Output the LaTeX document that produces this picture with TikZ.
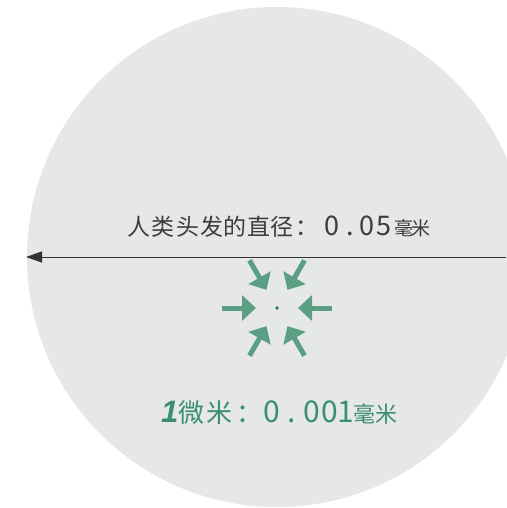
\documentclass[tikz,border=0pt]{standalone}
\usepackage{fontspec}
\newfontfamily\cjk{Noto Sans CJK SC}
\newfontfamily\lsans{Liberation Sans}
\usetikzlibrary{arrows.meta,calc}
\definecolor{discgray}{HTML}{E6E7E8}
\definecolor{linegray}{HTML}{333333}
\definecolor{textgray}{HTML}{3C3C3C}
\definecolor{arrowgreen}{HTML}{5C9E83}
\definecolor{textgreen}{HTML}{3A8F6D}
\definecolor{dotgreen}{HTML}{1F7A5A}
\newcommand\gl[2]{\makebox[0pt]{#1}\hspace{#2}}
\newcommand\gz[1]{\makebox[0pt]{#1}}
\tikzset{
  disc/.style={fill=discgray, draw=none},
  measure/.style={draw=linegray, line width=1pt, -{Triangle[length=16pt,width=11pt]}},
  squeeze/.style={draw=arrowgreen, line width=5pt, -{Triangle[length=14pt,width=25pt]}},
  label/.style={inner sep=0pt, anchor=base west}
}
\begin{document}
\begin{tikzpicture}[x=1pt,y=-1pt]
\useasboundingbox (0,0) rectangle (506,508);
\fill[disc] (277,257) circle (250);
\coordinate (R) at (506,257);
\coordinate (L) at (26,257);
\draw[measure] (R) -- (L);
\node[label, text=textgray] (hair) at (139,235) {\cjk\fontsize{23}{23}\selectfont\gl{人}{24pt}\gl{类}{25pt}\gl{头}{24pt}\gl{发}{23pt}\gl{的}{24pt}\gl{直}{23pt}\gl{径}{25pt}\gl{：}{24.5pt}{\fontsize{27}{27}\selectfont\gl{0}{18.5pt}\gl{.}{16.5pt}\gl{0}{17pt}\gl{5}{20pt}}{\fontsize{19}{19}\selectfont\gl{毫}{17pt}\gz{米}}};
\coordinate (c) at (277,308);
\foreach \a in {0,60,...,300} {
  \coordinate (t\a) at ($(c)+(\a:55)$);
  \coordinate (h\a) at ($(c)+(\a:21)$);
  \draw[squeeze] (t\a) -- (h\a);
}
\fill[dotgreen] (c) circle (1.8);
\node[label, text=textgreen] (micron) at (169.5,422) {\cjk\fontsize{26}{26}\selectfont\gl{{\lsans\bfseries\itshape\fontsize{31}{31}\selectfont 1}}{21.5pt}\gl{微}{28pt}\gl{米}{30.5pt}\gl{：}{22pt}{\fontsize{30}{30}\selectfont\gl{0}{19.5pt}\gl{.}{20.5pt}\gl{0}{18.5pt}\gl{0}{16pt}\gl{1}{18pt}}{\fontsize{22}{22}\selectfont\gl{毫}{22pt}\gz{米}}};
\end{tikzpicture}
\end{document}
